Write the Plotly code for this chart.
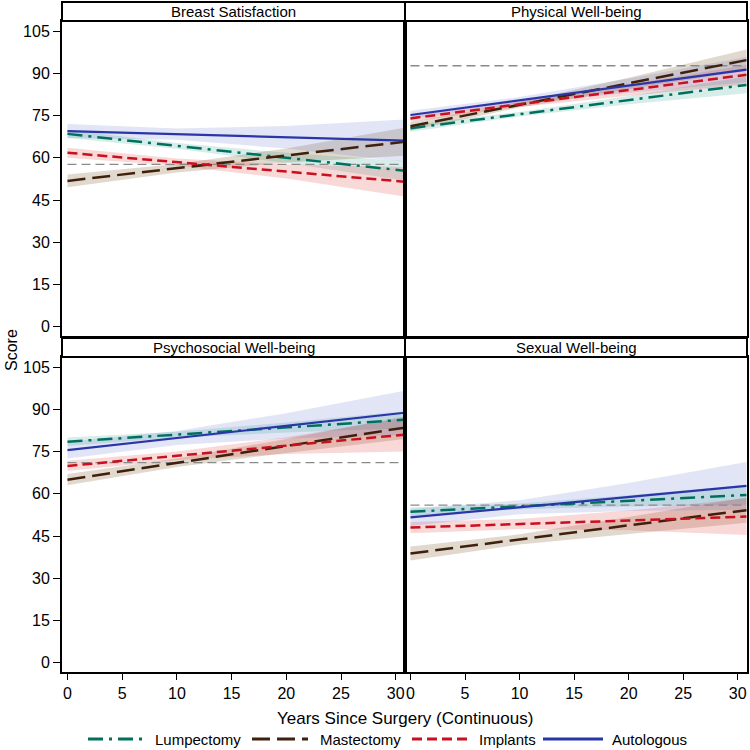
import plotly.graph_objects as go

W = 750
panels = ["Breast Satisfaction", "Physical Well-being", "Psychosocial Well-being", "Sexual Well-being"]
groups = ["Lumpectomy", "Mastectomy", "Implants", "Autologous"]

x_line = [0, 30.8]
x_band = [0, 10, 20, 30.8]

# line start / end values per panel per group
start_vals = {
    "Breast Satisfaction":     [68.5, 51.8, 61.8, 69.5],
    "Physical Well-being":     [70.5, 71.2, 74.0, 75.2],
    "Psychosocial Well-being": [78.5, 65.0, 69.9, 75.5],
    "Sexual Well-being":       [53.6, 38.8, 48.0, 51.6],
}
end_vals = {
    "Breast Satisfaction":     [55.4, 65.7, 51.5, 66.1],
    "Physical Well-being":     [85.9, 94.7, 89.5, 91.3],
    "Psychosocial Well-being": [86.3, 83.5, 81.0, 88.8],
    "Sexual Well-being":       [59.6, 54.2, 51.9, 62.8],
}
# confidence band half-widths at x_band
half_width = {
    "Breast Satisfaction":     [[1.5, 1.0, 1.8, 3.5], [2.3, 1.5, 2.5, 5.0], [1.8, 1.3, 2.5, 5.2], [2.5, 2.0, 4.0, 7.5]],
    "Physical Well-being":     [[1.2, 0.8, 1.5, 3.0], [1.5, 1.0, 2.0, 3.8], [1.2, 1.0, 2.0, 3.5], [1.5, 1.2, 2.5, 4.5]],
    "Psychosocial Well-being": [[1.5, 1.0, 1.8, 3.0], [2.0, 1.5, 2.5, 4.0], [1.8, 1.5, 3.0, 6.0], [3.0, 2.5, 4.5, 7.8]],
    "Sexual Well-being":       [[1.5, 1.0, 2.0, 3.5], [2.5, 1.8, 3.0, 4.5], [2.0, 1.8, 3.5, 6.5], [3.0, 2.5, 5.0, 8.5]],
}
reference = {
    "Breast Satisfaction": 57.7,
    "Physical Well-being": 92.7,
    "Psychosocial Well-being": 71.1,
    "Sexual Well-being": 56.0,
}
y_ticks = [0, 15, 30, 45, 60, 75, 90, 105]
x_ticks = [0, 5, 10, 15, 20, 25, 30]

line_colors = ["#00705E", "#3F200C", "#C8101E", "#2A36A8"]
band_colors = ["rgba(0,140,120,0.16)", "rgba(120,80,30,0.22)", "rgba(225,60,60,0.20)", "rgba(90,110,200,0.18)"]
dashes = ["15px,6px,3px,6px", "18px,7px", "10px,5px", "solid"]
line_widths = [2.5, 2.5, 2.5, 2.2]

# legend layout (pixel positions of symbol start/end and label start)
legend_sym_x = [(88, 143), (252, 308), (412, 470), (543, 603)]
legend_txt_x = [153, 318, 477, 610]
legend_y = 739

fig = go.Figure()

axis_ids = [("x", "y"), ("x2", "y2"), ("x3", "y3"), ("x4", "y4")]

for pi, p in enumerate(panels):
    xa, ya = axis_ids[pi]
    for gi, g in enumerate(groups):
        s, e = start_vals[p][gi], end_vals[p][gi]
        mid = [s + (e - s) * xb / x_line[1] for xb in x_band]
        up = [m + h for m, h in zip(mid, half_width[p][gi])]
        lo = [m - h for m, h in zip(mid, half_width[p][gi])]
        fig.add_trace(go.Scatter(
            x=x_band + x_band[::-1], y=up + lo[::-1], fill="toself",
            fillcolor=band_colors[gi], line=dict(width=0), mode="lines",
            showlegend=False, hoverinfo="skip", xaxis=xa, yaxis=ya))
    fig.add_trace(go.Scatter(
        x=x_line, y=[reference[p]] * 2, mode="lines",
        line=dict(color="#8a8a8a", width=1.3, dash="9px,5px"),
        showlegend=False, xaxis=xa, yaxis=ya))
    for gi, g in enumerate(groups):
        fig.add_trace(go.Scatter(
            x=x_line, y=[start_vals[p][gi], end_vals[p][gi]], mode="lines",
            line=dict(color=line_colors[gi], width=line_widths[gi], dash=dashes[gi]),
            name=g, showlegend=False, xaxis=xa, yaxis=ya))

def px(v):
    return v / W

x_doms = [[px(62), px(405)], [px(405), px(747)]]
y_doms_top = [1 - px(336), 1 - px(21)]
y_doms_bot = [1 - px(672), 1 - px(357)]

common_x = dict(range=[-0.5, 30.85], showgrid=False, zeroline=False, showline=True,
                linecolor="black", linewidth=2, mirror=True, tickvals=x_ticks,
                tickfont=dict(size=16, color="black"), ticks="outside", ticklen=6, tickcolor="black")
common_y = dict(range=[-3.3, 108.6], showgrid=False, zeroline=False, showline=True,
                linecolor="black", linewidth=2, mirror=True, tickvals=y_ticks,
                tickfont=dict(size=16, color="black"), ticks="outside", ticklen=7, tickcolor="black")

fig.update_layout(
    xaxis=dict(common_x, domain=x_doms[0], anchor="y", showticklabels=False, ticks=""),
    xaxis2=dict(common_x, domain=x_doms[1], anchor="y2", showticklabels=False, ticks=""),
    xaxis3=dict(common_x, domain=x_doms[0], anchor="y3"),
    xaxis4=dict(common_x, domain=x_doms[1], anchor="y4"),
    yaxis=dict(common_y, domain=y_doms_top, anchor="x"),
    yaxis2=dict(common_y, domain=y_doms_top, anchor="x2", showticklabels=False, ticks=""),
    yaxis3=dict(common_y, domain=y_doms_bot, anchor="x3"),
    yaxis4=dict(common_y, domain=y_doms_bot, anchor="x4", showticklabels=False, ticks=""),
)

shapes = []
annotations = []
strip_rows = [(2, 21), (338, 357)]
for pi, p in enumerate(panels):
    r, c = divmod(pi, 2)
    t, b = strip_rows[r]
    shapes.append(dict(type="rect", xref="paper", yref="paper",
                       x0=x_doms[c][0], x1=x_doms[c][1], y0=1 - px(b), y1=1 - px(t),
                       line=dict(color="black", width=2), fillcolor="white", layer="above"))
    annotations.append(dict(text=p, xref="paper", yref="paper",
                            x=(x_doms[c][0] + x_doms[c][1]) / 2, y=1 - px((t + b) / 2),
                            showarrow=False, font=dict(size=15, color="black"),
                            xanchor="center", yanchor="middle"))

# manual legend
for gi, g in enumerate(groups):
    x0, x1 = legend_sym_x[gi]
    shapes.append(dict(type="line", xref="paper", yref="paper",
                       x0=px(x0), x1=px(x1), y0=1 - px(legend_y), y1=1 - px(legend_y),
                       line=dict(color=line_colors[gi], width=2.8, dash=dashes[gi])))
    annotations.append(dict(text=g, xref="paper", yref="paper", x=px(legend_txt_x[gi]),
                            y=1 - px(legend_y), showarrow=False, xanchor="left", yanchor="middle",
                            font=dict(size=15, color="black")))

annotations.append(dict(text="Score", xref="paper", yref="paper", x=px(11), y=1 - px(350),
                        textangle=-90, showarrow=False, font=dict(size=16, color="black"),
                        xanchor="center", yanchor="middle"))
annotations.append(dict(text="Years Since Surgery (Continuous)", xref="paper", yref="paper",
                        x=px(405), y=1 - px(718), showarrow=False,
                        font=dict(size=17, color="black"), xanchor="center", yanchor="middle"))

fig.update_layout(
    width=750, height=750,
    margin=dict(l=0, r=0, t=0, b=0),
    paper_bgcolor="white", plot_bgcolor="white",
    font=dict(family="Liberation Sans, Arial, sans-serif", color="black"),
    shapes=shapes, annotations=annotations,
    showlegend=False,
)

fig.write_html(
    "out.html",
    config={"displayModeBar": False},
    post_script=("document.documentElement.style.margin='0';document.body.style.margin='0';"
                 "document.body.style.padding='0';document.documentElement.style.overflow='hidden';"
                 "document.body.style.overflow='hidden';"),
)
